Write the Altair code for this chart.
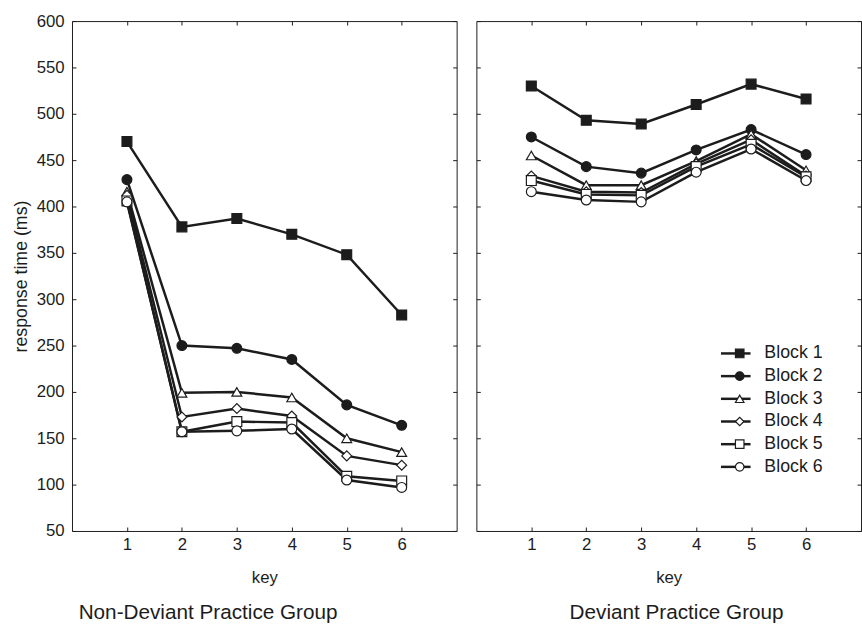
import altair as alt
import pandas as pd

keys = [1, 2, 3, 4, 5, 6]
blocks = ["Block 1", "Block 2", "Block 3", "Block 4", "Block 5", "Block 6"]
y_ticks = [50, 100, 150, 200, 250, 300, 350, 400, 450, 500, 550, 600]
groups = ["Non-Deviant Practice Group", "Deviant Practice Group"]

nondev_block1 = [470, 378, 387, 370, 348, 283]
nondev_block2 = [429, 250, 247, 235, 186, 164]
nondev_block3 = [416, 199, 200, 194, 150, 135]
nondev_block4 = [412, 173, 182, 174, 131, 121]
nondev_block5 = [406, 157, 168, 167, 109, 104]
nondev_block6 = [405, 157, 158, 160, 105, 97]

dev_block1 = [530, 493, 489, 510, 532, 516]
dev_block2 = [475, 443, 436, 461, 483, 456]
dev_block3 = [455, 423, 423, 449, 478, 439]
dev_block4 = [433, 416, 415, 446, 472, 433]
dev_block5 = [428, 413, 412, 443, 467, 432]
dev_block6 = [416, 407, 405, 437, 462, 428]

block_shapes = ["square", "circle", "triangle-up", "diamond", "square", "circle"]
INK = "#1c1c1c"
block_fills = [INK, INK, "white", "white", "white", "white"]
line_keys = ["line " + b for b in blocks]
FONT = "Liberation Sans"


def make_df(series):
    rows = []
    for b, lb, vals in zip(blocks, line_keys, series):
        for k, v in zip(keys, vals):
            rows.append({"key": k, "rt": v, "block": b, "blk": lb})
    return pd.DataFrame(rows)


nondev_df = make_df([nondev_block1, nondev_block2, nondev_block3,
                     nondev_block4, nondev_block5, nondev_block6])
dev_df = make_df([dev_block1, dev_block2, dev_block3,
                  dev_block4, dev_block5, dev_block6])

W, H = 390, 517
xscale = alt.Scale(domain=[0, 7], nice=False, zero=False)
yscale = alt.Scale(domain=[50, 600], nice=False, zero=False)
tick_style = dict(domain=False, grid=False, ticks=True, tickSize=4, offset=-4,
                  tickColor=INK, tickWidth=1)


def panel(df, title, first):
    if first:
        y_main = alt.Axis(orient="left", values=y_ticks, title="response time (ms)",
                          labelPadding=8, titlePadding=6, labelFontSize=17,
                          titleFontSize=18, titleFontWeight="normal", labelColor=INK,
                          titleColor=INK, labelFont=FONT, titleFont=FONT, **tick_style)
    else:
        y_main = alt.Axis(orient="left", values=y_ticks, title=None, labels=False,
                          **tick_style)
    x_main = alt.Axis(orient="bottom", values=keys, format="d", title="key",
                      labelPadding=6, titlePadding=17, labelFontSize=17, titleFontSize=17,
                      titleFontWeight="normal", labelColor=INK, titleColor=INK,
                      labelFont=FONT, titleFont=FONT, labelFlush=False, **tick_style)
    x_top = alt.Axis(orient="top", values=keys, title=None, labels=False, **tick_style)
    y_right = alt.Axis(orient="right", values=y_ticks, title=None, labels=False,
                       **tick_style)

    if first:
        line_legend = None
        pt_legend = None
    else:
        line_legend = alt.Legend(orient="none", legendX=254, legendY=328, title=None,
                                 symbolType="M-2,0H2", symbolSize=225,
                                 symbolStrokeWidth=2.5, labelExpr="''",
                                 labelFontSize=18, labelFont=FONT, rowPadding=5,
                                 padding=0, labelOffset=0)
        pt_legend = alt.Legend(orient="none", legendX=258, legendY=328, title=None,
                               symbolSize=75, symbolStrokeWidth=1.2,
                               labelFontSize=18, labelFont=FONT, labelColor=INK,
                               rowPadding=5, padding=0, labelOffset=16)

    lines = alt.Chart(df).mark_line(strokeWidth=2.5).encode(
        x=alt.X("key:Q", scale=xscale, axis=x_main),
        y=alt.Y("rt:Q", scale=yscale, axis=y_main),
        color=alt.Color("blk:N", scale=alt.Scale(domain=line_keys, range=[INK] * 6),
                        legend=line_legend),
    )
    points = alt.Chart(df).mark_point(size=100, strokeWidth=1.2, opacity=1).encode(
        x=alt.X("key:Q", scale=xscale, axis=x_top),
        y=alt.Y("rt:Q", scale=yscale, axis=y_right),
        shape=alt.Shape("block:N", scale=alt.Scale(domain=blocks, range=block_shapes),
                        legend=pt_legend),
        fill=alt.Fill("block:N", scale=alt.Scale(domain=blocks, range=block_fills),
                      legend=pt_legend),
        stroke=alt.Stroke("block:N", scale=alt.Scale(domain=blocks, range=[INK] * 6),
                          legend=pt_legend),
    )
    return alt.layer(lines, points).resolve_axis(
        x="independent", y="independent"
    ).properties(
        width=W, height=H,
        title=alt.TitleParams(text=title, orient="bottom", fontSize=21,
                              fontWeight="normal", font=FONT, color=INK,
                              anchor="middle", frame="group", offset=17,
                              dx=-57 if first else 8),
    )


chart = alt.hconcat(
    panel(nondev_df, groups[0], True),
    panel(dev_df, groups[1], False),
    spacing=18,
).resolve_scale(
    color="independent", shape="independent", fill="independent",
    stroke="independent"
).resolve_legend(
    color="independent", shape="independent", fill="independent",
    stroke="independent"
).properties(
    padding={"left": 12, "top": 7, "right": 0, "bottom": 0},
    background="white",
).configure_view(
    stroke=INK, strokeWidth=1
)

chart.save("out.html", embed_options={"renderer": "svg", "actions": False})
